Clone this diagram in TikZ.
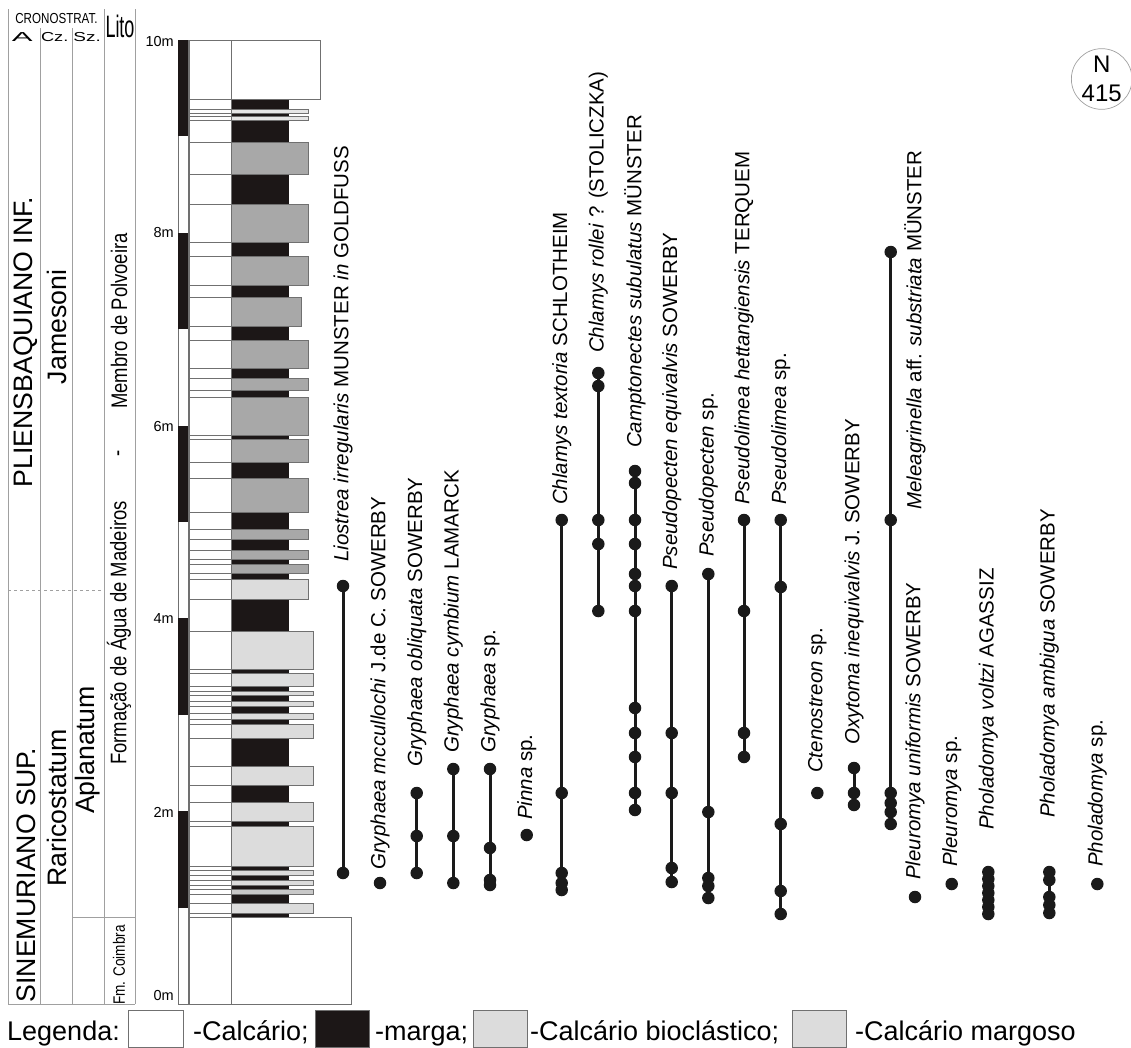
\documentclass[tikz,border=0pt]{standalone}
\usepackage{fontspec}
\usepackage{graphicx}
\setmainfont{Liberation Sans}
\newfontfamily\narrowfont[FakeStretch=0.82]{Liberation Sans}
\newfontfamily\litofont[FakeStretch=0.58]{Liberation Sans}
\newfontfamily\cronofont[FakeStretch=0.8]{Liberation Sans}
\definecolor{marga}{HTML}{1C1717}
\definecolor{biogray}{HTML}{A8A8A8}
\definecolor{lightg}{HTML}{DCDCDC}
\definecolor{paleg}{HTML}{E6E6E6}
\definecolor{midg}{HTML}{C8C8C8}
\definecolor{edge}{HTML}{707070}
\definecolor{tgray}{HTML}{A0A0A0}
\definecolor{dotc}{HTML}{1A1A1A}
\tikzset{
 fdot/.style={circle, fill=dotc, inner sep=0pt, minimum size=12.5pt},
 rline/.style={line width=3pt, draw=dotc},
 flabel/.style={rotate=90, anchor=west, inner sep=0pt, font=\fontsize{20.5}{24}\selectfont},
 bigrot/.style={rotate=90, inner sep=0pt, font=\fontsize{26.7}{30}\selectfont},
 narrot/.style={rotate=90, inner sep=0pt, font=\narrowfont\fontsize{22.5}{26}\selectfont},
 bedline/.style={draw=edge, line width=0.9pt},
 tline/.style={draw=tgray, line width=0.8pt},
 headtxt/.style={inner sep=0pt, text depth=0pt},
 scalelab/.style={anchor=east, inner sep=0pt, font=\fontsize{14.5}{16}\selectfont},
 legtext/.style={anchor=base west, inner sep=0pt, font=\fontsize{27}{30}\selectfont},
 legbox/.style={draw=edge, line width=0.9pt},
}
\newcommand\frange[3]{%
  \foreach \yy [count=\ii] in {#3} {\node[fdot] (#1-\ii) at (#2,\yy) {}; \xdef\lastii{\ii}}%
  \draw[rline] (#1-1.center) -- (#1-\lastii.center);
}
\newcommand\fsingle[3]{\node[fdot] (#1-1) at (#2,#3) {};}
\newcommand\flab[4]{\node[flabel] (#1-lab) at (#2,#3) {#4};}
\begin{document}
\begin{tikzpicture}[x=1pt,y=-1pt]
\useasboundingbox (0,0) rectangle (1131,1047);
% ---------- stratigraphic table ----------
\foreach \xx in {8,104,135} {\draw[tline] (\xx,9) -- (\xx,1004);}
\foreach \xx in {40,72} {\draw[tline] (\xx,28) -- (\xx,1004);}
\draw[tline] (8,1004) -- (135,1004);
\draw[tline] (72,917) -- (135,917);
\draw[tline, dashed] (8,590) -- (104,590);
\node[headtxt, font=\cronofont\fontsize{14.5}{16}\selectfont] (crono) at (56.5,18) {CRONOSTRAT.};
\node[headtxt, font=\litofont\fontsize{31}{34}\selectfont] (lito) at (120,26) {Lito};
\node[headtxt, anchor=west, font=\fontsize{13}{14}\selectfont] (ranks) at (6,36.5)
  {\makebox[32pt]{\scalebox{2.4}[1]{A}}\makebox[33pt]{\scalebox{1.4}[1]{Cz.}}\makebox[32pt]{\scalebox{1.46}[1]{Sz.}}};
\node[bigrot] (plien) at (26,342) {PLIENSBAQUIANO INF.};
\node[bigrot] (sinem) at (26,875) {SINEMURIANO SUP.};
\node[bigrot] (jame) at (57,327) {Jamesoni};
\node[bigrot] (rari) at (57,808) {Raricostatum};
\node[bigrot] (aplan) at (88,750) {Aplanatum};
\node[narrot] (membro) at (119,321) {Membro de Polvoeira};
\node[narrot] (hyph) at (121,453) {-};
\node[narrot] (formacao) at (119,633) {Formação de Água de Madeiros};
\node[rotate=90, inner sep=0pt, font=\narrowfont\fontsize{16.5}{18}\selectfont] (coimbra) at (119,965) {Fm. Coimbra};
% ---------- scale bar ----------
\draw[bedline] (178,40) rectangle (188,1004);
\foreach \tp in {40,232.8,425.6,618.4,811.2} {\fill[marga] (178,\tp) rectangle (188,\tp+96.4);}
\node[scalelab] (s10) at (174,42) {10m};
\node[scalelab] (s8) at (174,233) {8m};
\node[scalelab] (s6) at (174,426) {6m};
\node[scalelab] (s4) at (174,618) {4m};
\node[scalelab] (s2) at (174,812) {2m};
\node[scalelab] (s0) at (174,995) {0m};
% ---------- lithological column ----------
\fill[marga] (231,99.3) rectangle (289,917.3);
\foreach \t/\b/\c/\r in {
 40/99.3/white/320, 109/113/paleg/308, 116.7/120.3/paleg/308,
 142/174.3/biogray/308, 204/242.3/biogray/308, 256.7/285.3/biogray/308,
 297.3/326/biogray/301, 340/368.3/biogray/308, 378.3/390.3/biogray/308,
 397.7/435/biogray/308, 439/462.3/biogray/308, 478.3/512.3/biogray/308,
 529/539/biogray/308, 550.7/559/biogray/308, 564/573.7/biogray/308,
 579.3/599.3/lightg/308, 631/669/lightg/313, 673.7/686/lightg/313,
 691/695/lightg/313, 701/706.7/lightg/313, 713.3/719/lightg/313,
 724/738.3/lightg/313, 766.7/785/lightg/313, 802.7/821.7/lightg/313,
 826/866.7/lightg/313, 870/875/lightg/313, 880/885/lightg/313,
 889/894.3/midg/313, 903.3/913.3/lightg/313, 917.3/1004/white/351}
{
 \draw[bedline, fill=white] (189,\t) rectangle (231,\b);
 \draw[bedline, fill=\c] (231,\t) rectangle (\r,\b);
}
\draw[bedline] (189,40) -- (189,1004);
\draw[bedline] (231,40) -- (231,1004);
% ---------- fossil ranges ----------
\frange{liostrea}{343}{586,873}
\flab{liostrea}{343}{562}{\textit{Liostrea irregularis} MUNSTER \textit{in} GOLDFUSS}
\fsingle{mccul}{380}{883}
\flab{mccul}{380}{870}{\textit{Gryphaea mccullochi} J.de C. SOWERBY}
\frange{obliq}{416.7}{793,836,873}
\flab{obliq}{416.7}{767}{\textit{Gryphaea obliquata} SOWERBY}
\frange{cymb}{453.3}{769,836,883}
\flab{cymb}{453.3}{753}{\textit{Gryphaea cymbium} LAMARCK}
\frange{gryph}{490}{769,848,880,885}
\flab{gryph}{490}{753}{\textit{Gryphaea} sp.}
\fsingle{pinna}{526.7}{835}
\flab{pinna}{526.7}{820}{\textit{Pinna} sp.}
\frange{ctext}{561.7}{520,793,873,883,890}
\flab{ctext}{561.7}{505}{\textit{Chlamys textoria} SCHLOTHEIM}
\frange{croll}{598.3}{373,386,520,544,611}
\flab{croll}{598.3}{353}{\textit{Chlamys rollei} ? (STOLICZKA)}
\frange{campt}{635}{471,483,520,544,574,586,611,708,733,757,793,810}
\flab{campt}{635}{448}{\textit{Camptonectes subulatus} MÜNSTER}
\frange{pequi}{671.7}{586,733,793,868,882}
\flab{pequi}{671.7}{570}{\textit{Pseudopecten equivalvis} SOWERBY}
\frange{psp}{708.3}{574,812,878,886,898}
\flab{psp}{708.3}{557}{\textit{Pseudopecten} sp.}
\frange{phett}{744}{520,611,733,757}
\flab{phett}{744}{505}{\textit{Pseudolimea hettangiensis} TERQUEM}
\frange{plsp}{780.7}{520,587,824,891,914}
\flab{plsp}{780.7}{505}{\textit{Pseudolimea} sp.}
\fsingle{cten}{817.3}{793}
\flab{cten}{817.3}{773}{\textit{Ctenostreon} sp.}
\frange{oxy}{854}{768,793,805}
\flab{oxy}{854}{745}{\textit{Oxytoma inequivalvis} J. SOWERBY}
\frange{mele}{890.7}{252,520,793,803,812,824}
\flab{mele}{915}{510}{\textit{Meleagrinella} aff. \textit{substriata} MÜNSTER}
\fsingle{pluni}{915}{897}
\flab{pluni}{915}{880}{\textit{Pleuromya uniformis} SOWERBY}
\fsingle{plesp}{951.7}{884}
\flab{plesp}{951.7}{867}{\textit{Pleuromya} sp.}
\frange{volt}{988.3}{872,879,886,893,900,907,914}
\flab{volt}{988.3}{830}{\textit{Pholadomya voltzi} AGASSIZ}
\frange{ambig}{1049.3}{872,880,897,905,913}
\flab{ambig}{1049.3}{818}{\textit{Pholadomya ambigua} SOWERBY}
\fsingle{phsp}{1097.3}{884}
\flab{phsp}{1097.3}{867}{\textit{Pholadomya} sp.}
% ---------- N 415 ----------
\node[circle, draw=tgray, line width=0.7pt, minimum size=60pt, inner sep=0pt, align=center,
      font=\fontsize{24}{29}\selectfont] (n415) at (1101.7,79) {N\\415};
% ---------- legend ----------
\node[legtext] (legenda) at (7,1040) {Legenda:};
\draw[legbox, fill=white] (128,1010) rectangle (183,1047);
\node[legtext] (lcalc) at (193,1040) {-Calcário;};
\draw[legbox, fill=marga] (315,1010) rectangle (369,1047);
\node[legtext] (lmarga) at (375,1040) {-marga;};
\draw[legbox, fill=lightg] (473,1010) rectangle (527,1047);
\node[legtext] (lbio) at (530,1040) {-Calcário bioclástico;};
\draw[legbox, fill=lightg] (792,1010) rectangle (846,1047);
\node[legtext] (lmarg) at (855,1040) {-Calcário margoso};
\end{tikzpicture}
\end{document}
